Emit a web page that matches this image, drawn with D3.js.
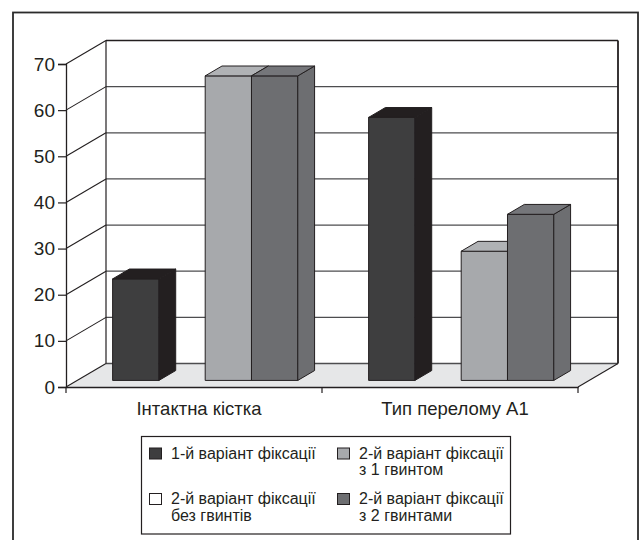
<!DOCTYPE html>
<html>
<head>
<meta charset="utf-8">
<script src="https://cdn.jsdelivr.net/npm/d3@7"></script>
<style>
  html, body { margin: 0; padding: 0; background: #fff; }
  svg { display: block; font-family: "Liberation Sans", Arial, sans-serif; }
</style>
</head>
<body>
<svg id="chart" width="642" height="540"></svg>
<script>
// Categories along the x axis
const categories = ["Інтактна кістка", "Тип перелому А1"];

// Series (order of the bar slots inside each category)
const seriesNames = [
  "1-й варіант фіксації",
  "2-й варіант фіксації без гвинтів",
  "2-й варіант фіксації з 1 гвинтом",
  "2-й варіант фіксації з 2 гвинтами"
];
const seriesFixation1 = [22, 57];
const seriesNoScrews = [null, null];
const seriesOneScrew = [66, 28];
const seriesTwoScrews = [66, 36];

// Legend text lines per series
const legendLines = [
  ["1-й варіант фіксації"],
  ["2-й варіант фіксації", "без гвинтів"],
  ["2-й варіант фіксації", "з 1 гвинтом"],
  ["2-й варіант фіксації", "з 2 гвинтами"]
];

const yTicks = [0, 10, 20, 30, 40, 50, 60, 70];

const seriesValues = [seriesFixation1, seriesNoScrews, seriesOneScrew, seriesTwoScrews];

// Face colours: front, side, top
const palette = [
  { front: "#3e3e3f", side: "#231f20", top: "#231f20" },
  { front: "#ffffff", side: "#ffffff", top: "#ffffff" },
  { front: "#a7a9ac", side: "#a7a9ac", top: "#b0b2b5" },
  { front: "#6d6e71", side: "#6d6e71", top: "#75767a" }
];
const edge = "#231f20";

const svg = d3.select("#chart");

// Outer frame
svg.append("rect")
  .attr("x", 13).attr("y", 12.5)
  .attr("width", 625).attr("height", 540)
  .attr("fill", "none").attr("stroke", "#2b2b2b").attr("stroke-width", 1.8);

// Front plane geometry and depth offset of the 3D box
const x0 = 66, x1 = 578;
const depthDX = 40, depthDY = -23.5;
const y = d3.scaleLinear().domain([0, 70]).range([387, 64]);
const x = d3.scaleBand().domain(categories).range([x0, x1]).padding(0);
const xs = d3.scaleBand().domain(d3.range(seriesNames.length))
  .range([0, x.bandwidth()]).paddingInner(0).paddingOuter(0.765);

const proj = (px, py, d) => [px + d * depthDX, py + d * depthDY];
const line = d3.line();

// Floor
const floor = [proj(x0, y(0), 0), proj(x1, y(0), 0), proj(x1, y(0), 1), proj(x0, y(0), 1)];
svg.append("path").attr("d", line(floor) + "Z").attr("fill", "#e6e7e8").attr("stroke", "none");

// Back wall gridlines and side wall diagonals
const grid = svg.append("g");
yTicks.forEach(t => {
  const a = proj(x0, y(t), 1), b = proj(x1, y(t), 1);
  grid.append("line")
    .attr("x1", a[0]).attr("y1", a[1]).attr("x2", b[0]).attr("y2", b[1])
    .attr("stroke", t === 70 ? edge : "#4d4d4f").attr("stroke-width", 1.3);
  const c = proj(x0, y(t), 0);
  grid.append("line")
    .attr("x1", c[0]).attr("y1", c[1]).attr("x2", a[0]).attr("y2", a[1])
    .attr("stroke", edge).attr("stroke-width", 1.1);
});
// Back wall vertical edges
[x0, x1].forEach((px, i) => {
  const a = proj(px, y(0), 1), b = proj(px, y(70), 1);
  grid.append("line")
    .attr("x1", a[0]).attr("y1", a[1]).attr("x2", b[0]).attr("y2", b[1])
    .attr("stroke", edge).attr("stroke-width", i === 0 ? 1.2 : 1.8);
});
// Floor right edge
{
  const a = proj(x1, y(0), 0), b = proj(x1, y(0), 1);
  grid.append("line")
    .attr("x1", a[0]).attr("y1", a[1]).attr("x2", b[0]).attr("y2", b[1])
    .attr("stroke", edge).attr("stroke-width", 1.1);
}

// Bars (drawn left to right so that each front face covers its neighbour's side)
const dFront = 0.28, dBack = 0.70;
const bars = svg.append("g");
categories.forEach((cat, ci) => {
  seriesValues.forEach((vals, si) => {
    const v = vals[ci];
    if (v == null) return;
    const bx0 = x(cat) + xs(si), bx1 = bx0 + xs.bandwidth();
    const yb = y(0), yt = y(v);
    const f = [proj(bx0, yb, dFront), proj(bx1, yb, dFront), proj(bx1, yt, dFront), proj(bx0, yt, dFront)];
    const s = [proj(bx1, yb, dFront), proj(bx1, yb, dBack), proj(bx1, yt, dBack), proj(bx1, yt, dFront)];
    const tp = [proj(bx0, yt, dFront), proj(bx1, yt, dFront), proj(bx1, yt, dBack), proj(bx0, yt, dBack)];
    const c = palette[si];
    [[f, c.front], [s, c.side], [tp, c.top]].forEach(([pts, fill]) => {
      bars.append("path").attr("d", line(pts) + "Z")
        .attr("fill", fill).attr("stroke", edge).attr("stroke-width", 1)
        .attr("stroke-linejoin", "round");
    });
  });
});

// Y axis
const yAxis = d3.axisLeft(y).tickValues(yTicks).tickSize(8).tickPadding(3);
const gy = svg.append("g").attr("transform", `translate(${x0},0)`).call(yAxis);
gy.select(".domain").attr("stroke", edge).attr("stroke-width", 1.3);
gy.selectAll(".tick line").attr("stroke", edge).attr("stroke-width", 1.2);
gy.selectAll(".tick text").attr("fill", "#231f20")
  .style("font-family", "'Liberation Sans', Arial, sans-serif").style("font-size", "19px");

// X axis (front floor edge) with category labels
const xAxis = d3.axisBottom(x).tickSize(0).tickPadding(0).tickFormat("");
const gx = svg.append("g").attr("transform", `translate(0,${y(0)})`).call(xAxis);
gx.select(".domain").attr("stroke", edge).attr("stroke-width", 1.3);
const boundaries = [x0, ...categories.map(c => x(c) + x.bandwidth())];
gx.selectAll(".bound").data(boundaries).join("line").attr("class", "bound")
  .attr("x1", d => d).attr("x2", d => d).attr("y1", 0).attr("y2", 6)
  .attr("stroke", edge).attr("stroke-width", 1.2);
gx.selectAll(".cat").data(categories).join("text").attr("class", "cat")
  .attr("x", d => x(d) + x.bandwidth() / 2 + 5)
  .attr("y", 28)
  .attr("text-anchor", "middle")
  .attr("fill", "#231f20")
  .style("font-size", "18.5px")
  .text(d => d);

// Legend
const legend = svg.append("g");
legend.append("rect")
  .attr("x", 141.5).attr("y", 436.5).attr("width", 369).attr("height", 97.5)
  .attr("fill", "#fff").attr("stroke", "#231f20").attr("stroke-width", 1.2);
const colX = [149, 337];
const rowY = [447.5, 493];
seriesNames.forEach((name, i) => {
  const col = Math.floor(i / 2), row = i % 2;
  const g = legend.append("g").attr("transform", `translate(${colX[col]},${rowY[row]})`);
  g.append("rect").attr("x", 0.5).attr("y", 0.5).attr("width", 12).attr("height", 11)
    .attr("fill", palette[i].front).attr("stroke", "#231f20").attr("stroke-width", 1);
  const t = g.append("text").attr("x", 22).attr("y", 11)
    .attr("fill", "#231f20").style("font-size", "16px");
  legendLines[i].forEach((ln, k) => {
    t.append("tspan").attr("x", 22).attr("dy", k === 0 ? 0 : 16.8).text(ln);
  });
});
</script>
</body>
</html>
